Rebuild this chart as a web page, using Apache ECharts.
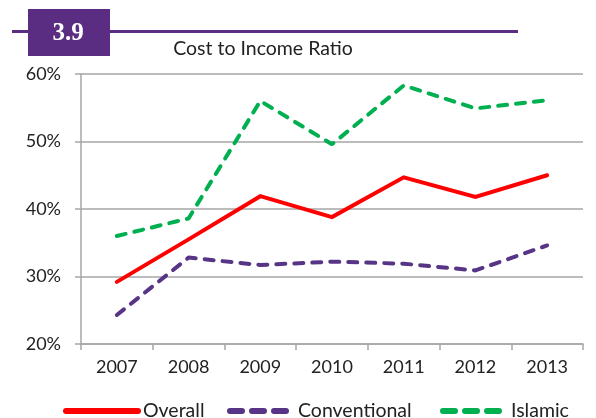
<!DOCTYPE html>
<html><head><meta charset="utf-8">
<script src="https://cdn.jsdelivr.net/npm/echarts@6/dist/echarts.min.js"></script>
<style>html,body{margin:0;padding:0;background:#fff}#c{width:596px;height:418px}</style>
</head><body><div id="c"></div>
<script>
var years = ['2007','2008','2009','2010','2011','2012','2013'];
var overall = [29.2, 35.5, 41.9, 38.8, 44.7, 41.8, 45.0];
var conventional = [24.3, 32.8, 31.7, 32.2, 31.9, 30.9, 34.6];
var islamic = [36.0, 38.6, 56.0, 49.6, 58.3, 54.9, 56.1];
var seriesNames = ['Overall','Conventional','Islamic'];
var yTicks = [20, 30, 40, 50, 60];

var font = 'Lato, "Open Sans", sans-serif';
var chart = echarts.init(document.getElementById('c'), null, {renderer:'canvas'});
var dash = [9, 9];
var legendDash = {type:[12,10], width:6, cap:'round'};
function leg(name, left, w, ls) {
  var d = {name:name, itemStyle:{opacity:0}};
  d.lineStyle = ls;
  return {
    data:[d], top:401, left:left, itemWidth:w, itemHeight:14, padding:0,
    textStyle:{fontSize:19.5, color:'#222', fontFamily:font}
  };
}
chart.setOption({
  animation:false,
  graphic:[
    {type:'rect', shape:{x:12,y:30,width:506,height:3}, style:{fill:'#5a2d82'}, z:10},
    {type:'rect', shape:{x:28,y:9,width:82,height:47}, style:{fill:'#5a2d82'}, z:11},
    {type:'text', x:68, y:34, style:{text:'3.9', fill:'#fff', font:'bold 25px "Liberation Serif", "DejaVu Serif", serif', align:'center', verticalAlign:'middle'}, z:12},
    {type:'text', x:263, y:49, style:{text:'Cost to Income Ratio', fill:'#222', font:'19.5px '+font, align:'center', verticalAlign:'middle'}, z:12}
  ],
  grid:{left:81, right:13, top:74, bottom:74},
  legend:[
    leg(seriesNames[0], 63, 72, {width:6, cap:'round'}),
    leg(seriesNames[1], 227, 63, legendDash),
    leg(seriesNames[2], 440, 63, legendDash)
  ],
  xAxis:{
    type:'category', data:years, boundaryGap:true,
    axisLine:{lineStyle:{color:'#a6a6a6', width:1.5}},
    axisTick:{show:true, length:6, lineStyle:{color:'#a6a6a6', width:1.5}},
    axisLabel:{fontSize:18, color:'#222', fontFamily:font, margin:14}
  },
  yAxis:{
    type:'value', min:yTicks[0], max:yTicks[yTicks.length-1], interval:10,
    axisLine:{show:true, lineStyle:{color:'#a6a6a6', width:1.5}},
    axisTick:{show:true, length:6, lineStyle:{color:'#a6a6a6', width:1.5}},
    splitLine:{lineStyle:{color:'#a6a6a6', width:1.5}},
    axisLabel:{fontSize:18, color:'#222', fontFamily:font, margin:20, formatter:'{value}%'}
  },
  series:[
    {name:seriesNames[0], type:'line', data:overall, symbol:'none', color:'#ff0000',
     lineStyle:{color:'#ff0000', width:4, cap:'round', join:'miter'}},
    {name:seriesNames[1], type:'line', data:conventional, symbol:'none', color:'#573485',
     lineStyle:{color:'#573485', width:4, type:dash, cap:'round'}},
    {name:seriesNames[2], type:'line', data:islamic, symbol:'none', color:'#00b050',
     lineStyle:{color:'#00b050', width:4, type:dash, cap:'round'}}
  ]
});
</script></body></html>
